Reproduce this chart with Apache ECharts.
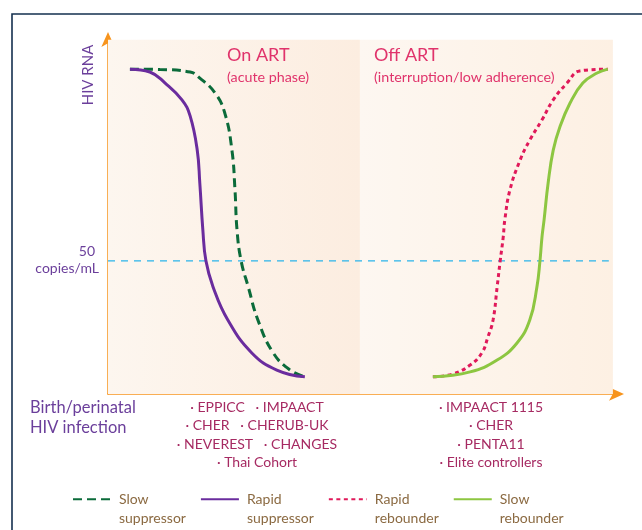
<!DOCTYPE html>
<html>
<head>
<meta charset="utf-8">
<script src="https://cdn.jsdelivr.net/npm/echarts@6/dist/echarts.min.js"></script>
<style>
html,body{margin:0;padding:0;background:#fff;}
#c{width:642px;height:530px;}
</style>
</head>
<body>
<div id="c"></div>
<script>
// ---- data (arbitrary units: x = time 0-100, y = HIV RNA 0-100) ----
var seriesNames = ['Slow suppressor', 'Rapid suppressor', 'Rapid rebounder', 'Slow rebounder'];
var slowSuppressor = [[4.3,91.0],[10.2,90.9],[16.1,90.2],[18.0,88.5],[21.0,84.3],[22.9,78.7],[24.3,68.3],[24.9,57.1],[25.3,45.9],[26.1,37.3],[27.5,30.0],[29.4,20.7],[32.4,11.5],[35.7,6.7],[38.6,4.8]];
var rapidSuppressor = [[4.3,91.0],[8.2,90.2],[11.2,87.1],[14.5,82.4],[16.1,77.9],[17.5,68.3],[18.0,59.1],[18.6,45.9],[19.2,37.3],[20.6,30.0],[23.5,20.7],[28.2,11.5],[33.1,6.7],[38.6,4.8]];
var rapidRebounder = [[63.7,4.8],[67.6,5.6],[71.0,8.1],[73.3,11.5],[74.5,16.0],[75.5,20.7],[76.3,30.0],[76.9,37.3],[77.5,44.0],[77.8,48.7],[78.8,57.1],[80.8,65.5],[82.7,71.1],[85.1,76.8],[87.3,82.4],[90.0,87.1],[92.5,90.5],[98.0,91.0]];
var slowRebounder = [[63.7,4.8],[71.0,6.2],[76.3,9.5],[80.2,14.3],[82.7,20.7],[84.1,30.0],[84.7,37.3],[85.1,44.0],[85.5,48.7],[86.3,59.1],[87.3,68.3],[88.6,74.8],[90.6,81.5],[93.1,87.1],[95.9,89.9],[98.0,91.0]];
var thresholdLine = [[0,37.3],[98.2,37.3]];
var thresholdLabel = ['50', 'copies/mL'];
var phases = [
  {name:'On ART', sub:'(acute phase)', from:0, to:49.4},
  {name:'Off ART', sub:'(interruption/low adherence)', from:49.4, to:99.0}
];
var phaseTop = 99.2;
var yAxisTitle = 'HIV RNA';
var xAxisTitle = ['Birth/perinatal', 'HIV infection'];
var onArtStudies = ['· EPPICC   · IMPAACT', '· CHER   · CHERUB-UK', '· NEVEREST   · CHANGES', '· Thai Cohort'];
var offArtStudies = ['· IMPAACT 1115', '· CHER', '· PENTA11', '· Elite controllers'];

var FONT = 'Lato';
var pink = '#e0336b', studyCol = '#a62a62', purpleTxt = '#6b3f9b', legendTxt = '#8b6a42';
var orange = '#f7941d';

var chart = echarts.init(document.getElementById('c'), null, {renderer:'canvas'});

function lineSeries(name, data, color, width, type) {
  return {
    name: name, type: 'line', data: data, smooth: 0.45, symbol: 'none',
    lineStyle: {color: color, width: width, type: type, cap: 'butt'},
    itemStyle: {color: color}, z: 5, silent: true
  };
}

var series = [
  lineSeries(seriesNames[0], slowSuppressor, '#0b6b3a', 3, [9, 5]),
  lineSeries(seriesNames[1], rapidSuppressor, '#6a2c9e', 3, 'solid'),
  lineSeries(seriesNames[2], rapidRebounder, '#e0195a', 3, [4, 3.5]),
  lineSeries(seriesNames[3], slowRebounder, '#8dc641', 3, 'solid'),
  {
    name: 'threshold', type: 'line', data: thresholdLine, symbol: 'none', z: 3, silent: true,
    lineStyle: {color: '#2ab4ea', width: 1.3, type: [7, 6]},
    markArea: {
      silent: true,
      data: phases.map(function (p, i) {
        return [{
          xAxis: p.from, yAxis: 0,
          itemStyle: {color: new echarts.graphic.LinearGradient(0, 0, 1, 0, i === 0 ?
            [{offset:0,color:'#fdf6ef'},{offset:1,color:'#fcede0'}] :
            [{offset:0,color:'#fdf7f1'},{offset:1,color:'#fdf0e3'}])}
        }, {xAxis: p.to, yAxis: phaseTop}];
      })
    }
  }
];

var graphic = [
  {type:'rect', shape:{x:12, y:14, width:700, height:600}, style:{fill:'none', stroke:'#14304f', lineWidth:1.6}, z:-10},
  {type:'text', z:100, x:88, y:75, rotation:Math.PI/2, style:{text:yAxisTitle, fill:purpleTxt, font:'15px '+FONT, textAlign:'center', textVerticalAlign:'middle'}},
  {type:'text', z:100, x:95, y:251, style:{text:thresholdLabel[0], fill:purpleTxt, font:'14px '+FONT, textAlign:'right', textVerticalAlign:'middle'}},
  {type:'text', z:100, x:99, y:268, style:{text:thresholdLabel[1], fill:purpleTxt, font:'14px '+FONT, textAlign:'right', textVerticalAlign:'middle'}},
  {type:'text', z:100, x:30, y:418, style:{text:xAxisTitle.join('\n'), fill:purpleTxt, font:'16.5px '+FONT, lineHeight:20, textAlign:'left', textVerticalAlign:'middle'}},
  {type:'text', z:100, x:257, y:435, style:{text:onArtStudies.join('\n'), fill:studyCol, font:'14px '+FONT, lineHeight:18.2, textAlign:'center', textVerticalAlign:'middle'}},
  {type:'text', z:100, x:491, y:435, style:{text:offArtStudies.join('\n'), fill:studyCol, font:'14px '+FONT, lineHeight:18.2, textAlign:'center', textVerticalAlign:'middle'}},
  {type:'text', z:100, x:227, y:55, style:{text:phases[0].name, fill:pink, font:'18px '+FONT, textAlign:'left', textVerticalAlign:'middle'}},
  {type:'text', z:100, x:227, y:77, style:{text:phases[0].sub, fill:pink, font:'14.3px '+FONT, textAlign:'left', textVerticalAlign:'middle'}},
  {type:'text', z:100, x:374, y:55, style:{text:phases[1].name, fill:pink, font:'18px '+FONT, textAlign:'left', textVerticalAlign:'middle'}},
  {type:'text', z:100, x:374, y:77, style:{text:phases[1].sub, fill:pink, font:'14.3px '+FONT, textAlign:'left', textVerticalAlign:'middle'}}
];

chart.setOption({
  animation: false,
  backgroundColor: '#ffffff',
  grid: {left:108, right:24, top:37, bottom:136},
  xAxis: {
    type:'value', min:0, max:100,
    axisLine:{show:true, symbol:['none','arrow'], symbolSize:[10,15], symbolOffset:[0,6], lineStyle:{color:orange, width:1.5}},
    axisTick:{show:false}, axisLabel:{show:false}, splitLine:{show:false}
  },
  yAxis: {
    type:'value', min:0, max:100,
    axisLine:{show:true, symbol:['none','arrow'], symbolSize:[10,15], symbolOffset:[0,5], lineStyle:{color:orange, width:1.5}},
    axisTick:{show:false}, axisLabel:{show:false}, splitLine:{show:false}
  },
  legend: {
    data: seriesNames, left: 72, top: 470, padding: 0, itemWidth: 38, itemHeight: 12, itemGap: 14,
    selectedMode: false,
    itemStyle: {opacity: 0},
    formatter: function (n) { var p = n.split(' '); return '\n' + p[0] + '\n' + p[1]; },
    textStyle: {color: legendTxt, fontFamily: FONT, fontSize: 14, lineHeight: 19.5, padding:[0,0,0,3]}
  },
  graphic: graphic,
  series: series
});
</script>
</body>
</html>
